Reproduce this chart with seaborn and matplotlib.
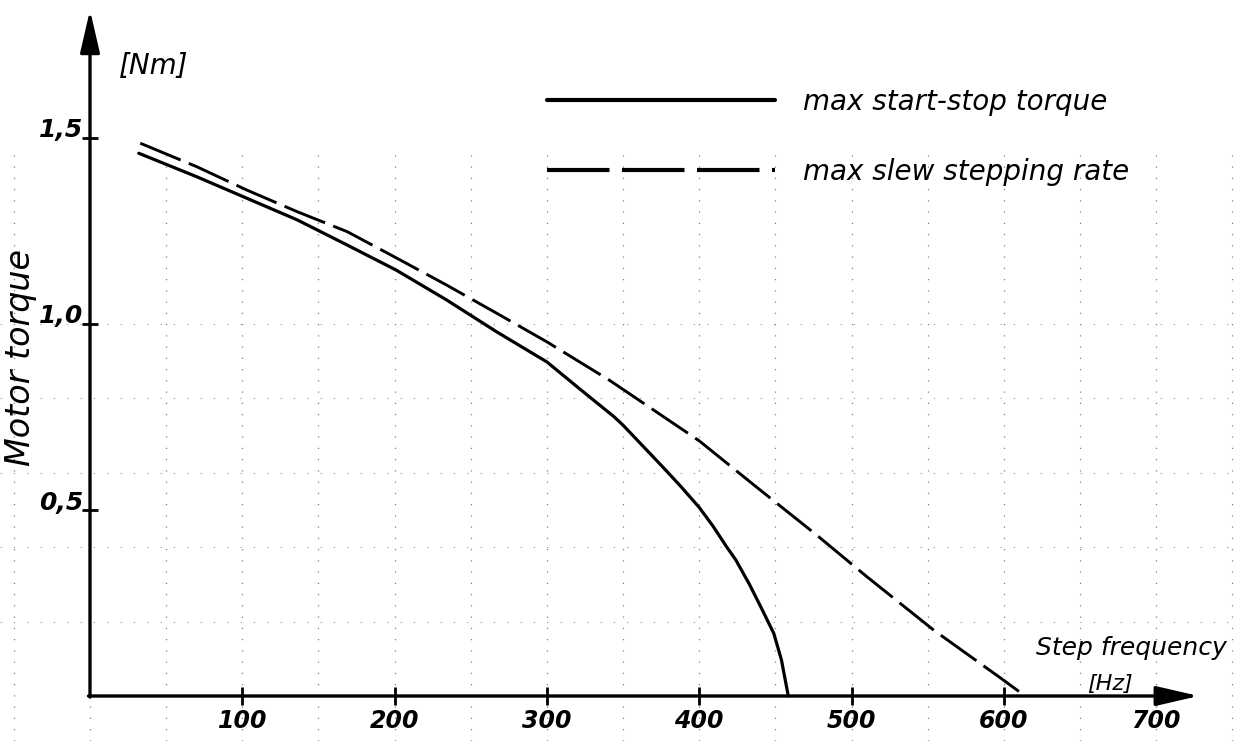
import numpy as np
import pandas as pd
import matplotlib
matplotlib.use("Agg")
import matplotlib.pyplot as plt
import matplotlib.transforms as mtransforms
import seaborn as sns

start_stop_freq = [32, 70, 103, 136, 169, 201, 234, 267, 300, 322, 344, 350, 376, 388, 400, 409,
                   418, 424, 433, 441, 449, 454, 458.5]
start_stop_torque = [1.459, 1.396, 1.338, 1.280, 1.212, 1.145, 1.065, 0.979, 0.898, 0.824, 0.751,
                     0.728, 0.616, 0.563, 0.507, 0.457, 0.401, 0.366, 0.300, 0.235, 0.168, 0.097,
                     0.0]

slew_freq = [33, 70, 103, 136, 169, 201, 234, 267, 300, 341, 400, 436, 477, 510, 554, 598, 614]
slew_torque = [1.486, 1.423, 1.360, 1.302, 1.248, 1.178, 1.105, 1.029, 0.952, 0.849, 0.686,
               0.567, 0.433, 0.321, 0.177, 0.048, 0.0]

x_ticks = [100, 200, 300, 400, 500, 600, 700]
x_tick_labels = ["100", "200", "300", "400", "500", "600", "700"]
y_ticks = [0.5, 1.0, 1.5]
y_tick_labels = ["0,5", "1,0", "1,5"]
grid_x = list(range(-50, 751, 50))
grid_y = [0.2, 0.4, 0.6, 0.8, 1.0]

df_ss = pd.DataFrame({"freq": start_stop_freq, "torque": start_stop_torque})
df_sl = pd.DataFrame({"freq": slew_freq, "torque": slew_torque})

sns.set_theme(style="white")
plt.rcParams["font.family"] = ["DejaVu Sans"]
plt.rcParams["text.color"] = "black"
plt.rcParams["xtick.color"] = "black"
plt.rcParams["ytick.color"] = "black"

fig = plt.figure(figsize=(12.34, 7.41), dpi=100)
ax = fig.add_axes([0, 0, 1, 1])
ax.set_xlim(-90 / 1.523, (1234 - 90) / 1.523)
ax.set_ylim(-45 / 372, 696 / 372)

# faint graph-paper dots
for gx in grid_x:
    ax.axvline(gx, ymax=0.8, color="0.5", lw=0.9, ls=(0, (1, 8)), zorder=0)
for gy in grid_y:
    ax.axhline(gy, color="0.6", lw=0.8, ls=(0, (1, 11)), zorder=0)

sns.lineplot(data=df_ss, x="freq", y="torque", ax=ax, color="black", lw=2.3,
             label="max start-stop torque")
sns.lineplot(data=df_sl, x="freq", y="torque", ax=ax, color="black", lw=2.1,
             dashes=False, label="max slew stepping rate")
ax.lines[-1].set_dashes((15, 3))
for ln in ax.lines[-2:]:
    ln.set_solid_joinstyle("round")
    ln.set_dash_joinstyle("round")

# axes with arrow heads
for s in ax.spines.values():
    s.set_visible(False)
ax.spines["left"].set_position(("data", 0))
ax.spines["bottom"].set_position(("data", 0))
arrow = dict(arrowstyle="-|>,head_length=0.65,head_width=0.15", lw=2.4, color="black",
             shrinkA=0, shrinkB=0, mutation_scale=40)
ax.annotate("", xy=(0, 1.844), xytext=(0, -0.003), arrowprops=arrow)
ax.annotate("", xy=(728, 0), xytext=(-1, 0), arrowprops=arrow)

ax.set_xticks(x_ticks, x_tick_labels)
ax.set_yticks(y_ticks, y_tick_labels)
ax.tick_params(axis="x", bottom=True, direction="inout", length=13, width=2, pad=3,
               labelsize=17, colors="black")
ax.tick_params(axis="y", left=True, direction="inout", length=12, width=2, pad=-1,
               labelsize=18, colors="black")
for lab in ax.get_xticklabels() + ax.get_yticklabels():
    lab.set_fontstyle("italic")
    lab.set_fontweight("bold")
shift = mtransforms.ScaledTranslation(0, 10 / 100, fig.dpi_scale_trans)
for lab in ax.get_yticklabels():
    lab.set_transform(lab.get_transform() + shift)
ax.set_xlabel("")
ax.set_ylabel("")

leg = ax.legend(loc="center left", bbox_to_anchor=(547 / 1234, 1 - 137 / 741),
                bbox_transform=fig.transFigure, frameon=False, fontsize=20,
                handlelength=8.2, handletextpad=1.0, labelspacing=1.5,
                borderpad=0, borderaxespad=0)
for t in leg.get_texts():
    t.set_fontstyle("italic")
    t.set_color("black")
for h in leg.get_lines():
    h.set_linewidth(3)

fig.text(21 / 1234, 1 - 357 / 741, "Motor torque", rotation=90, ha="center", va="center",
         fontsize=24, fontstyle="italic")
fig.text(154 / 1234, 1 - 66 / 741, "[Nm]", ha="center", va="center", fontsize=20,
         fontstyle="italic")
fig.text(1036 / 1234, 1 - 648 / 741, "Step frequency", ha="left", va="center",
         fontsize=18, fontstyle="italic")
fig.text(1110 / 1234, 1 - 684 / 741, "[Hz]", ha="center", va="center", fontsize=16,
         fontstyle="italic")

fig.savefig("out.png", dpi=100)
